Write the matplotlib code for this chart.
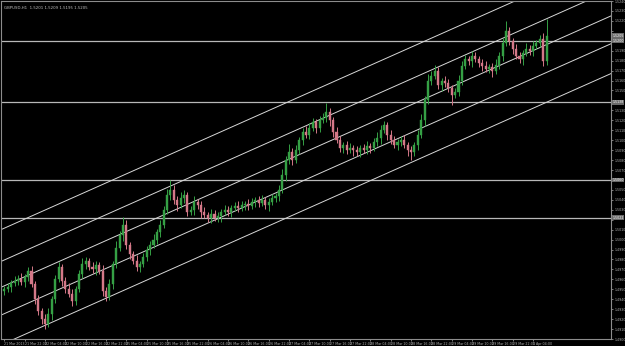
import numpy as np
import pandas as pd
import matplotlib
matplotlib.use('Agg')
import matplotlib.pyplot as plt

# GBPUSD H1 closes
close = [
    1.4950, 1.4952, 1.4956, 1.4958, 1.4960, 1.4957, 1.4962, 1.4968, 1.4955, 1.4940,
    1.4928, 1.4920, 1.4915, 1.4925, 1.4940, 1.4960, 1.4972, 1.4958, 1.4950, 1.4945,
    1.4938, 1.4950, 1.4965, 1.4975, 1.4978, 1.4972, 1.4970, 1.4974, 1.4968, 1.4948,
    1.4942, 1.4955, 1.4975, 1.4992, 1.5005, 1.5015, 1.4995, 1.4985, 1.4978, 1.4972,
    1.4975, 1.4982, 1.4990, 1.4995, 1.5000, 1.5008, 1.5015, 1.5030, 1.5045, 1.5050,
    1.5040, 1.5035, 1.5042, 1.5045, 1.5028, 1.5030, 1.5038, 1.5035, 1.5028, 1.5025,
    1.5022, 1.5026, 1.5022, 1.5024, 1.5028, 1.5030, 1.5028, 1.5032, 1.5034, 1.5032,
    1.5035, 1.5036, 1.5034, 1.5038, 1.5040, 1.5037, 1.5040, 1.5035, 1.5038, 1.5042,
    1.5044, 1.5050, 1.5065, 1.5080, 1.5088, 1.5080, 1.5090, 1.5100, 1.5108, 1.5105,
    1.5112, 1.5118, 1.5112, 1.5120, 1.5122, 1.5128, 1.5120, 1.5108, 1.5100, 1.5092,
    1.5095, 1.5090, 1.5092, 1.5090, 1.5088, 1.5092, 1.5090, 1.5094, 1.5092, 1.5098,
    1.5102, 1.5110, 1.5115, 1.5105, 1.5100, 1.5095, 1.5098, 1.5100, 1.5095, 1.5090,
    1.5088, 1.5095, 1.5105, 1.5120, 1.5140, 1.5160, 1.5165, 1.5170, 1.5155, 1.5160,
    1.5158, 1.5152, 1.5145, 1.5148, 1.5160, 1.5175, 1.5182, 1.5180, 1.5185, 1.5182,
    1.5178, 1.5175, 1.5172, 1.5174, 1.5170, 1.5176, 1.5185, 1.5198, 1.5210, 1.5200,
    1.5192, 1.5185, 1.5182, 1.5188, 1.5192, 1.5190, 1.5195, 1.5198, 1.5202, 1.5180,
    1.5205]
first_open = 1.4948

# wick lengths in pips above / below the body
upper_wick = [
    3, 4, 3, 5, 4, 6, 3, 4, 5, 3,   4, 3, 5, 6, 3, 4, 5, 3, 4, 6,
    5, 3, 4, 6, 4, 3, 5, 4, 3, 6,   4, 5, 3, 7, 4, 8, 5, 3, 4, 6,
    3, 5, 4, 4, 6, 3, 5, 4, 6, 10,  5, 4, 6, 5, 3, 4, 6, 3, 4, 5,
    3, 5, 4, 4, 3, 5, 4, 3, 4, 5,   4, 3, 5, 4, 3, 4, 5, 3, 4, 4,
    3, 5, 6, 4, 8, 4, 5, 3, 4, 6,   5, 4, 3, 4, 5, 9, 4, 3, 5, 4,
    3, 4, 5, 3, 4, 3, 4, 5, 3, 4,   6, 5, 4, 3, 5, 4, 3, 4, 5, 3,
    4, 3, 5, 6, 4, 7, 5, 6, 4, 3,   5, 4, 3, 4, 6, 5, 4, 3, 5, 4,
    3, 4, 5, 3, 4, 6, 4, 5, 10, 4,  3, 5, 4, 3, 6, 4, 5, 3, 4, 6,
    17]
lower_wick = [
    4, 3, 5, 3, 4, 3, 5, 4, 3, 5,   4, 5, 5, 3, 6, 4, 3, 5, 4, 3,
    5, 4, 3, 4, 5, 3, 4, 6, 3, 5,   4, 3, 5, 4, 3, 6, 4, 5, 3, 4,
    5, 3, 4, 6, 3, 4, 5, 3, 4, 5,   4, 6, 3, 5, 4, 3, 5, 4, 6, 3,
    4, 5, 3, 4, 6, 3, 4, 5, 3, 4,   3, 5, 4, 3, 5, 4, 3, 4, 6, 3,
    4, 5, 3, 6, 4, 5, 3, 4, 5, 3,   4, 3, 5, 4, 3, 4, 6, 5, 3, 4,
    5, 4, 3, 6, 4, 5, 3, 4, 5, 3,   4, 6, 3, 5, 4, 3, 5, 4, 3, 6,
    8, 4, 5, 3, 6, 4, 5, 3, 4, 6,   5, 4, 10, 3, 4, 5, 3, 4, 6, 3,
    4, 5, 3, 4, 6, 3, 4, 5, 3, 4,   5, 3, 4, 6, 3, 4, 5, 3, 4, 5,
    4]

# horizontal levels and channel lines
h_levels = [1.5200, 1.5138, 1.5060, 1.5022]
chan_bars = [-1, 179]
chan_start = [1.5010, 1.4978, 1.4952, 1.4924, 1.4894]
chan_end = [1.5283, 1.5251, 1.5225, 1.5197, 1.5167]

title_txt = 'GBPUSD,H1  1.5201 1.5209 1.5195 1.5205'

close = np.array(close)
opens = np.concatenate([[first_open], close[:-1]])
high = np.maximum(opens, close) + np.array(upper_wick) / 1e4
low = np.minimum(opens, close) - np.array(lower_wick) / 1e4
n = len(close)
idx = np.arange(n)

times = pd.date_range('2013-03-21 16:00', '2013-04-01 08:00', freq='h')
times = times[times.weekday < 5]
lbl_pos = list(range(0, n, 6))
lbl_txt = [times[0].strftime('%d %b %Y')] + \
          [f"{times[i].day} {times[i].strftime('%b %H:%M')}" for i in lbl_pos[1:]]

fig = plt.figure(figsize=(6.25, 3.46), dpi=100, facecolor='black')
ax = fig.add_axes([1 / 625, 7 / 346, 610 / 625, 338 / 346])
ax.set_facecolor('black')

bull = close >= opens
col_up, col_dn = '#35a045', '#d47888'
colors = np.where(bull, col_up, col_dn)
ax.vlines(idx, low, high, colors=colors, linewidth=0.7, zorder=3)
body_h = np.maximum(np.abs(close - opens), 0.00008)
ax.bar(idx, body_h, bottom=np.minimum(opens, close), width=0.6,
       color=colors, edgecolor=colors, linewidth=0.3, zorder=4)

for lv in h_levels:
    ax.axhline(lv, color='#b8b8b8', linewidth=0.9, zorder=2)
for s, e in zip(chan_start, chan_end):
    ax.plot(chan_bars, [s, e], color='#d8d8d8', linewidth=0.7, zorder=2)

ax.set_xlim(-1, 179)
ax.set_ylim(1.4900, 1.5238)

# price tags on the right axis; plain tick labels skip the tagged spots
tags = h_levels + [close[-1]]
ax.yaxis.tick_right()
yt = np.arange(1.4900, 1.5240, 0.0010)
ax.set_yticks(yt)
ax.set_yticklabels(['' if min(abs(v - t) for t in tags) < 0.0006 else f'{v:.4f}'
                    for v in yt])
ax.set_xticks(lbl_pos)
ax.set_xticklabels(lbl_txt, ha='left')
ax.tick_params(colors='#b0b0b0', labelsize=2.3, length=1.5, width=0.5, pad=0.8)

for sp in ax.spines.values():
    sp.set_color('#8c8c8c')
    sp.set_linewidth(0.8)

for lv in tags:
    ax.text(1.002, lv, f'{lv:.4f}', transform=ax.get_yaxis_transform(),
            fontsize=2.3, color='white', va='center', ha='left',
            bbox=dict(boxstyle='square,pad=0.1', fc='#6a6a6a', ec='none'))

ax.text(0.005, 0.985, title_txt, transform=ax.transAxes, fontsize=2.8,
        color='#c0c0c0', va='top', ha='left')

fig.savefig('out.png', dpi=100, facecolor='black')
